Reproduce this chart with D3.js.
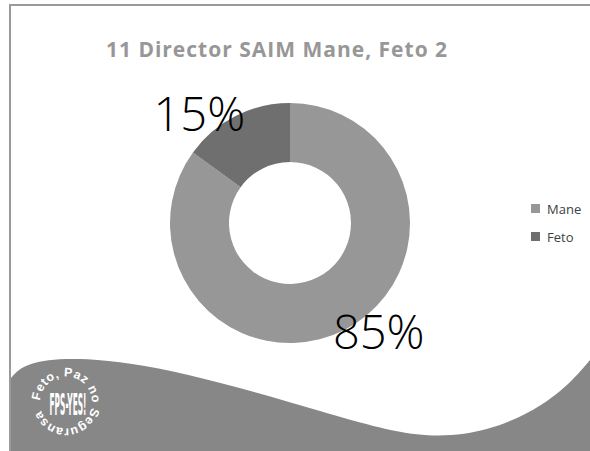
<!DOCTYPE html>
<html>
<head>
<meta charset="utf-8">
<script src="https://cdn.jsdelivr.net/npm/d3@7"></script>
<style>
  body { margin: 0; background: #fff; }
  svg { display: block; }
</style>
</head>
<body>
<div id="chart"></div>
<script>
const categories = ["Mane", "Feto"];
const values = [85, 15];
const labels = ["85%", "15%"];
const colors = ["#979797", "#6f6f6f"];
const title = "11 Director SAIM Mane, Feto 2";

const width = 590, height = 451;
const cx = 290, cy = 223;
const outerR = 120, innerR = 61;

let svg = d3.select("#chart")
    .append("svg")
    .attr("width", width)
    .attr("height", height);

// frame lines
svg.append("line").attr("x1", 9).attr("x2", width).attr("y1", 5).attr("y2", 5)
    .attr("stroke", "#9a9a9a").attr("stroke-width", 2);
svg.append("line").attr("x1", 10).attr("x2", 10).attr("y1", 4).attr("y2", height)
    .attr("stroke", "#9a9a9a").attr("stroke-width", 2);

// bottom wave
let wave = d3.line().curve(d3.curveBasis);
let wavePts = [[11, 378], [25, 362], [80, 356], [180, 370], [330, 414], [420, 440], [490, 432], [545, 405], [575, 378], [590, 360]];
svg.append("path")
    .attr("d", wave(wavePts) + `L${width},${height}L11,${height}Z`)
    .attr("fill", "#878787");

// logo: letters set one by one round a circle + condensed centre text
let logo = svg.append("g").attr("transform", "translate(66,402.5)");
let rr = 26, a0 = -86 * Math.PI / 180, a1 = 252 * Math.PI / 180;
let ringText = "Feto, Paz no Seguransa";
let ringStyle = sel => sel
    .attr("fill", "#fff")
    .style("font-family", "'Liberation Sans', sans-serif")
    .style("font-weight", "bold")
    .style("font-size", "12.5px");

let chars = ringText.split("");
let probe = logo.append("text").call(ringStyle);
let widths = chars.map(c => { probe.text(c === " " ? "\u00a0" : c); return probe.node().getComputedTextLength(); });
probe.remove();
let total = d3.sum(widths);
let gap = (rr * (a1 - a0) - total) / (chars.length - 1);
let pos = 0;
let placed = chars.map((c, i) => {
    let mid = pos + widths[i] / 2;
    pos += widths[i] + gap;
    return {c: c, a: a0 + mid / rr};
});
logo.selectAll("text.ring")
    .data(placed.filter(d => d.c !== " "))
    .enter()
    .append("text")
    .attr("class", "ring")
    .call(ringStyle)
    .attr("text-anchor", "middle")
    .attr("transform", d => `translate(${rr * Math.sin(d.a)},${-rr * Math.cos(d.a)}) rotate(${d.a * 180 / Math.PI})`)
    .text(d => d.c);

logo.append("text")
    .attr("x", 2).attr("y", 12)
    .attr("text-anchor", "middle")
    .attr("textLength", 37)
    .attr("lengthAdjust", "spacingAndGlyphs")
    .attr("fill", "#fff")
    .style("font-family", "'Liberation Sans Narrow', 'DejaVu Sans Condensed', sans-serif")
    .style("font-weight", "bold")
    .style("font-size", "30px")
    .text("FPS-YES!");

// title
svg.append("text")
    .attr("x", 277).attr("y", 57)
    .attr("text-anchor", "middle")
    .attr("fill", "#979797")
    .style("font-family", "'Open Sans', sans-serif")
    .style("font-weight", "bold")
    .style("font-size", "21px")
    .style("letter-spacing", "1px")
    .text(title);

// donut
let data = categories.map((c, i) => ({name: c, value: values[i], label: labels[i], color: colors[i]}));
let pie = d3.pie().sort(null).value(d => d.value);
let arc = d3.arc().innerRadius(innerR).outerRadius(outerR);
let arcs = pie(data);

let g = svg.append("g").attr("transform", `translate(${cx},${cy})`);
g.selectAll("path.slice")
    .data(arcs)
    .enter()
    .append("path")
    .attr("class", "slice")
    .attr("d", arc)
    .attr("fill", d => d.data.color);

// percent labels, placed outside the ring
let labelR = 141, shift = -12.5 * Math.PI / 180;
g.selectAll("text.pct")
    .data(arcs)
    .enter()
    .append("text")
    .attr("class", "pct")
    .attr("x", d => labelR * Math.sin((d.startAngle + d.endAngle) / 2 + shift) - 1)
    .attr("y", d => -labelR * Math.cos((d.startAngle + d.endAngle) / 2 + shift) + 17)
    .attr("text-anchor", "middle")
    .attr("fill", "#000")
    .style("font-family", "'Open Sans', sans-serif")
    .style("font-weight", "300")
    .style("font-size", "47px")
    .text(d => d.data.label);

// legend
let legend = svg.append("g").attr("transform", "translate(531,204)");
let items = legend.selectAll("g")
    .data(data)
    .enter()
    .append("g")
    .attr("transform", (d, i) => `translate(0,${i * 28})`);
items.append("rect")
    .attr("width", 9).attr("height", 9)
    .attr("fill", d => d.color);
items.append("text")
    .attr("x", 16).attr("y", 9.5)
    .attr("fill", "#404040")
    .style("font-family", "'Open Sans', sans-serif")
    .style("font-size", "13px")
    .text(d => d.name);
</script>
</body>
</html>
